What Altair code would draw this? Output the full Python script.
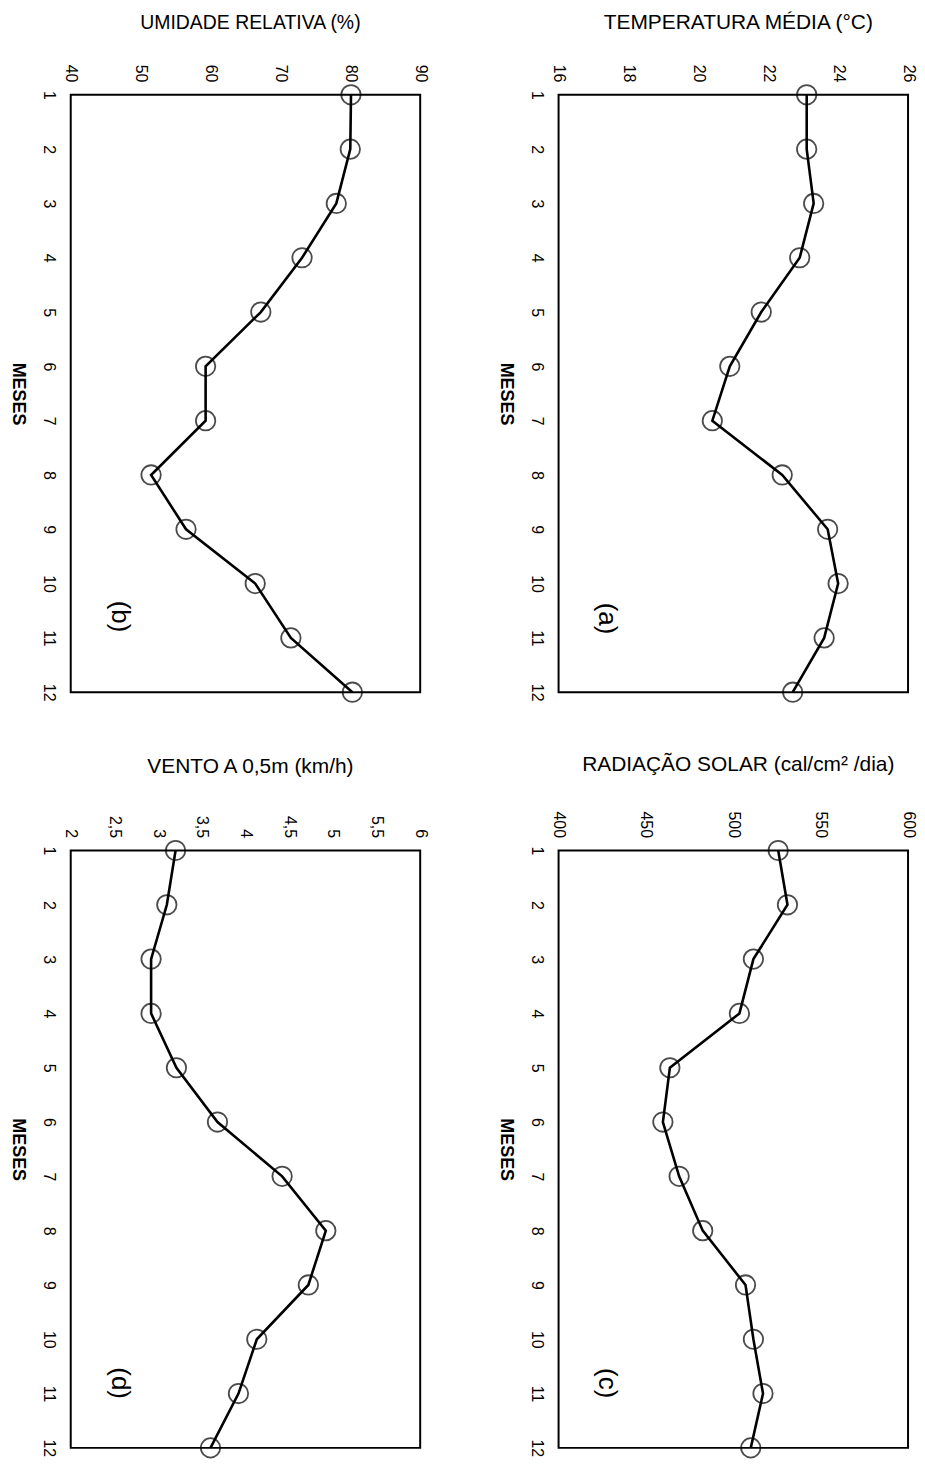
import altair as alt
import pandas as pd

meses = list(range(1, 13))
temperatura = [23.1, 23.1, 23.3, 22.9, 21.8, 20.9, 20.4, 22.4, 23.7, 24.0, 23.6, 22.7]
umidade = [80.1, 80.0, 78.0, 73.1, 67.2, 59.3, 59.3, 51.5, 56.5, 66.4, 71.5, 80.3]
radiacao = [525.7, 531.0, 511.5, 503.5, 463.7, 459.7, 469.0, 482.5, 507.0, 511.5, 517.0, 510.0]
vento = [3.20, 3.10, 2.92, 2.92, 3.21, 3.68, 4.42, 4.92, 4.72, 4.13, 3.92, 3.60]

ticks_temp = [16, 18, 20, 22, 24, 26]
ticks_umid = [40, 50, 60, 70, 80, 90]
ticks_rad = [400, 450, 500, 550, 600]
ticks_vento = [2, 2.5, 3, 3.5, 4, 4.5, 5, 5.5, 6]

titulos = ["TEMPERATURA MÉDIA (°C)", "UMIDADE RELATIVA (%)",
           "RADIAÇÃO SOLAR (cal/cm² /dia)", "VENTO A 0,5m (km/h)"]
letras = ["(a)", "(b)", "(c)", "(d)"]

FONT = "Liberation Sans"
W, H = 351, 600


def panel(values, ticks, title, letter, title_size, title_y, letter_y):
    df = pd.DataFrame({"mes": meses, "valor": values})
    x = alt.X(
        "valor:Q",
        scale=alt.Scale(domain=[ticks[0], ticks[-1]], nice=False, zero=False),
        axis=alt.Axis(
            orient="top",
            values=ticks,
            labelAngle=90,
            labelAlign="right",
            labelBaseline="middle",
            labelPadding=13,
            labelExpr="replace(toString(datum.value), '.', ',')",
            title=None,
        ),
    )
    y = alt.Y(
        "mes:Q",
        scale=alt.Scale(domain=[1, 12], nice=False, zero=False, reverse=True),
        axis=alt.Axis(
            orient="left",
            values=meses,
            labelAngle=90,
            labelAlign="center",
            labelBaseline="top",
            labelPadding=14,
            title="MESES",
            titleAngle=90,
            titleBaseline="top",
            titlePadding=14,
            titleFontSize=18,
            titleFontWeight="bold",
            titleFont=FONT,
        ),
    )
    base = alt.Chart(df)
    line = base.mark_line(color="black", strokeWidth=2.6).encode(x=x, y=y, order="mes:Q")
    pts = base.mark_point(shape="circle", size=380, color="black", strokeWidth=1.8, filled=False).encode(x=x, y=y)
    lab = alt.Chart(pd.DataFrame({"t": [letter]})).mark_text(
        angle=90, align="center", baseline="middle", fontSize=26, font=FONT, color="black"
    ).encode(text="t:N", x=alt.value(49), y=alt.value(letter_y))
    tit = alt.Chart(pd.DataFrame({"t": [title]})).mark_text(
        align="center", baseline="middle", fontSize=title_size, font=FONT, color="black"
    ).encode(text="t:N", x=alt.value(W / 2 + 5), y=alt.value(title_y))
    return alt.layer(line, pts, lab, tit).properties(width=W, height=H)


a = panel(temperatura, ticks_temp, titulos[0], letras[0], 21, -72, 526)
b = panel(umidade, ticks_umid, titulos[1], letras[1], 19.5, -72, 524)
c = panel(radiacao, ticks_rad, titulos[2], letras[2], 21, -86, 535)
d = panel(vento, ticks_vento, titulos[3], letras[3], 21, -84, 535)

chart = alt.vconcat(
    alt.hconcat(b, a, spacing=67),
    alt.hconcat(d, c, spacing=67),
    spacing=46,
).properties(
    padding={"top": 0, "left": 0, "right": 0, "bottom": 0}
).configure_view(
    stroke="black", strokeWidth=2
).configure_axis(
    grid=False, domain=False, ticks=False,
    labelFont=FONT, labelFontSize=16, labelColor="black", titleColor="black",
)

chart.save("out.html", embed_options={"renderer": "svg", "actions": False})
